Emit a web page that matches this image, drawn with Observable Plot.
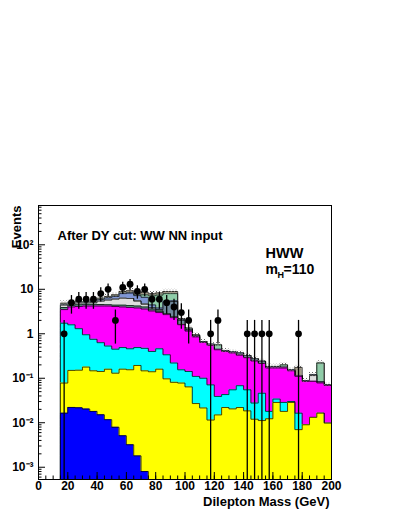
<!DOCTYPE html>
<html><head><meta charset="utf-8">
<script src="https://cdn.jsdelivr.net/npm/d3@7"></script>
<script src="https://cdn.jsdelivr.net/npm/@observablehq/plot@0.6"></script>
<style>
html,body{margin:0;padding:0;background:#fff;}
#chart{width:399px;height:516px;}
</style></head><body><div id="chart"></div>
<script>
// Bin edges (GeV)
const binEdges = [15,20,25,30,35,40,45,50,55,60,65,70,75,80,85,90,95,100,105,110,115,120,125,130,135,140,145,150,155,160,165,170,175,180,185,190,195,200];

// Stack components (events per bin), bottom to top
const blue    = [0.0164,0.0221,0.0217,0.0203,0.018,0.0151,0.0117,0.0079,0.0051,0.0032,0.0018,0.0008,0,0,0,0,0,0,0,0,0,0,0,0,0,0,0,0,0,0,0,0,0,0,0,0,0];
const yellow  = [0.0616,0.128,0.130,0.158,0.129,0.127,0.148,0.122,0.155,0.152,0.192,0.146,0.140,0.160,0.097,0.081,0.078,0.064,0.027,0.0215,0.0115,0.015,0.022,0.0205,0.022,0.0185,0.012,0.0112,0.0123,0.0286,0.018,0.0286,0.0070,0.009,0.0132,0.0164,0.0098];
const cyan    = [1.65,1.44,1.15,0.772,0.603,0.488,0.37,0.32,0.33,0.305,0.296,0.323,0.26,0.30,0.24,0.139,0.077,0.078,0.083,0.0785,0.0595,0.024,0.021,0.0345,0.046,0.0365,0.0157,0.0348,0.0057,0.0054,0.0106,0.0014,0.0094,0,0,0,0];
const magenta = [1.77,2.41,2.80,3.25,3.45,3.57,3.67,3.65,3.51,3.44,3.31,3.13,2.85,2.54,2.36,2.08,1.445,1.008,0.74,0.54,0.479,0.398,0.357,0.315,0.262,0.235,0.217,0.169,0.152,0.136,0.141,0.117,0.094,0.076,0.072,0.062,0.059];
const dkgreen = [0.4,0.4,0.4,0.4,0.4,0.35,0.3,0.3,0.4,0.4,0.4,0.4,0.2,0.2,0.1,0.1,0.02,0.02,0.01,0,0,0,0,0,0,0,0,0,0,0,0,0,0,0,0,0,0];
const lgray   = [0.5,0.4,0.4,0.35,0.4,0.85,1.2,1.6,1.9,1.9,1.2,0.6,0.2,0.1,0.05,0.05,0.03,0.02,0.01,0,0,0,0,0,0,0,0,0,0,0,0,0,0,0,0.03,0,0];
const slate   = [0,0,0,0,0,0,0,0,0,0,0.1,0.1,0.2,0.2,2.35,2.85,0.35,0.06,0.05,0.03,0.03,0.01,0.015,0.02,0.04,0.035,0.03,0.025,0.014,0.014,0.008,0.008,0.005,0.003,0.005,0.005,0.002];
const lblue   = [0.1,0.1,0.1,0.1,0.2,0.5,0.7,0.9,1.7,2.0,1.7,1.9,0.6,0.3,0.2,0.2,0.05,0.02,0,0,0,0,0,0,0,0,0,0,0,0,0,0,0,0,0,0,0];
const lgreen  = [0.1,0.1,0.1,0.1,0.1,0.1,0.1,0.1,0.2,0.2,0.3,0.9,2.7,3.6,2.6,2.5,0.05,0.02,0,0,0,0.118,0,0,0,0,0,0,0,0,0.022,0,0,0,0,0.137,0];
const tan     = [0.27,0.13,0.2,0.15,0.2,0.3,0.4,0.5,0.7,0.9,0.7,1.1,0.8,0.9,0.9,0.9,0.1,0.06,0.03,0,0,0,0,0,0,0,0,0,0,0,0,0,0.06,0,0,0,0];

// Data points
const dataX = [17.5,22.5,27.5,32.5,37.5,42.5,47.5,52.5,57.5,62.5,67.5,72.5,77.5,82.5,87.5,92.5,97.5,102.5,117.5,122.5,142.5,147.5,152.5,157.5,177.5];
const dataN = [1,5,6,6,6,8,10,2,11,13,9,10,6,6,5,4,3,2,1,2,1,1,1,1,1];

// Axis ticks
const xMajor = [0,20,40,60,80,100,120,140,160,180,200];
const yMajor = [0.001,0.01,0.1,1,10,100];
const yMajorLabels = ["10\u207B\u00B3","10\u207B\u00B2","10\u207B\u00B9","1","10","10\u00B2"];

const bandRel = 0.12;
const ymin = 5.3e-4, ymax = 765;

const layers = [
  {values: blue,    color: "#0000ff"},
  {values: yellow,  color: "#ffff00"},
  {values: cyan,    color: "#00ffff"},
  {values: magenta, color: "#ff00ff"},
  {values: dkgreen, color: "#5a9c80"},
  {values: lgray,   color: "#dedede"},
  {values: slate,   color: "#6f889c"},
  {values: lblue,   color: "#7f96d4"},
  {values: lgreen,  color: "#8fcca8"},
  {values: tan,     color: "#a69c88"}
];

const nb = binEdges.length - 1;
let running = new Array(nb).fill(0);
const stacked = layers.map(L => {
  running = running.map((r, i) => r + L.values[i]);
  const cum = running.slice();
  const pts = binEdges.map((e, i) => ({x: e, top: Math.max(cum[Math.min(i, nb - 1)], ymin)}));
  const outline = [{x: binEdges[0], top: ymin}, ...pts, {x: binEdges[nb], top: ymin}];
  return {color: L.color, cum, pts, outline};
});
const total = stacked[stacked.length - 1].cum;
const band = total.map((t, i) => ({x1: binEdges[i], x2: binEdges[i + 1], lo: t * (1 - bandRel), hi: t * (1 + bandRel)}));
const points = dataX.map((x, i) => ({x, n: dataN[i], lo: Math.max(dataN[i] - Math.sqrt(dataN[i]), ymin), hi: dataN[i] + Math.sqrt(dataN[i])}));

const xMinor = d3.range(0, 201, 5);
const yMinor = [];
for (const dec of [1e-4, 1e-3, 1e-2, 1e-1, 1, 10, 100]) for (let k = 2; k <= 9; k++) { const v = k * dec; if (v > ymin && v < ymax) yMinor.push(v); }

const layerMarks = [];
for (const L of stacked.slice().reverse()) {
  layerMarks.push(Plot.areaY(L.pts, {x: "x", y1: ymin, y2: "top", curve: "step-after", fill: L.color}));
  layerMarks.push(Plot.line(L.outline, {x: "x", y: "top", curve: "step-after", stroke: "#000", strokeWidth: 0.9, strokeOpacity: 0.8}));
}

const font = "'Liberation Sans', Arial, Helvetica, sans-serif";
const chart = Plot.plot({
  width: 399, height: 516,
  marginLeft: 38, marginRight: 68, marginTop: 205, marginBottom: 37,
  x: {domain: [0, 200]},
  y: {type: "log", domain: [ymin, ymax]},
  style: {fontFamily: font, fontSize: "12px", fontWeight: "bold", color: "#000", background: "#fff"},
  marks: [
    ...layerMarks,
    Plot.rect(band, {x1: "x1", x2: "x2", y1: "lo", y2: "hi", fill: "url(#hatch)"}),
    Plot.ruleX(points, {x: "x", y1: "lo", y2: "hi", stroke: "#000", strokeWidth: 1.3}),
    Plot.dot(points, {x: "x", y: "n", r: 3.4, fill: "#000", stroke: "none"}),
    Plot.frame({stroke: "#000", strokeWidth: 1}),
    Plot.axisX({ticks: xMajor, tickSize: -7, tickFormat: () => "", label: null}),
    Plot.axisX({ticks: xMinor, tickSize: -3.5, tickFormat: () => "", label: null}),
    Plot.axisX({ticks: xMajor, tickSize: 0, tickPadding: 2, label: null, fontSize: 12}),
    Plot.axisY({ticks: yMajor, tickSize: -7, tickFormat: () => "", label: null}),
    Plot.axisY({ticks: yMinor, tickSize: -3.5, tickFormat: () => "", label: null}),
    Plot.axisY({ticks: yMajor, tickSize: 0, tickPadding: 5, label: null, fontSize: 12, tickFormat: d => yMajorLabels[yMajor.indexOf(d)]}),
    Plot.text(["After DY cut: WW NN input"], {frameAnchor: "top-left", dx: 19, dy: 34, textAnchor: "start", lineAnchor: "bottom", fontSize: 13, fontWeight: "bold"}),
    Plot.text(["HWW"], {frameAnchor: "top-left", dx: 227, dy: 52, textAnchor: "start", lineAnchor: "bottom", fontSize: 14.5, fontWeight: "bold"}),
    Plot.text(["m"], {frameAnchor: "top-left", dx: 227, dy: 68, textAnchor: "start", lineAnchor: "bottom", fontSize: 14, fontWeight: "bold"}),
    Plot.text(["H"], {frameAnchor: "top-left", dx: 239, dy: 72.5, textAnchor: "start", lineAnchor: "bottom", fontSize: 9, fontWeight: "bold"}),
    Plot.text(["=110"], {frameAnchor: "top-left", dx: 245, dy: 68, textAnchor: "start", lineAnchor: "bottom", fontSize: 14, fontWeight: "bold"}),
    Plot.text(["Dilepton Mass (GeV)"], {frameAnchor: "bottom-right", dx: -2, dy: 26, textAnchor: "end", lineAnchor: "bottom", fontSize: 13, fontWeight: "bold"}),
    Plot.text(["Events"], {frameAnchor: "top-left", dx: -18, dy: 0, rotate: -90, textAnchor: "end", lineAnchor: "bottom", fontSize: 13, fontWeight: "bold"})
  ]
});

// dotted hatch pattern for the uncertainty band
const defs = d3.select(chart).insert("defs", ":first-child");
const pat = defs.append("pattern").attr("id", "hatch").attr("patternUnits", "userSpaceOnUse").attr("width", 3).attr("height", 3);
pat.append("rect").attr("x", 0).attr("y", 0).attr("width", 1).attr("height", 1).attr("fill", "#666");
pat.append("rect").attr("x", 1.5).attr("y", 1.5).attr("width", 1).attr("height", 1).attr("fill", "#999");

document.getElementById("chart").appendChild(chart);
</script></body></html>
